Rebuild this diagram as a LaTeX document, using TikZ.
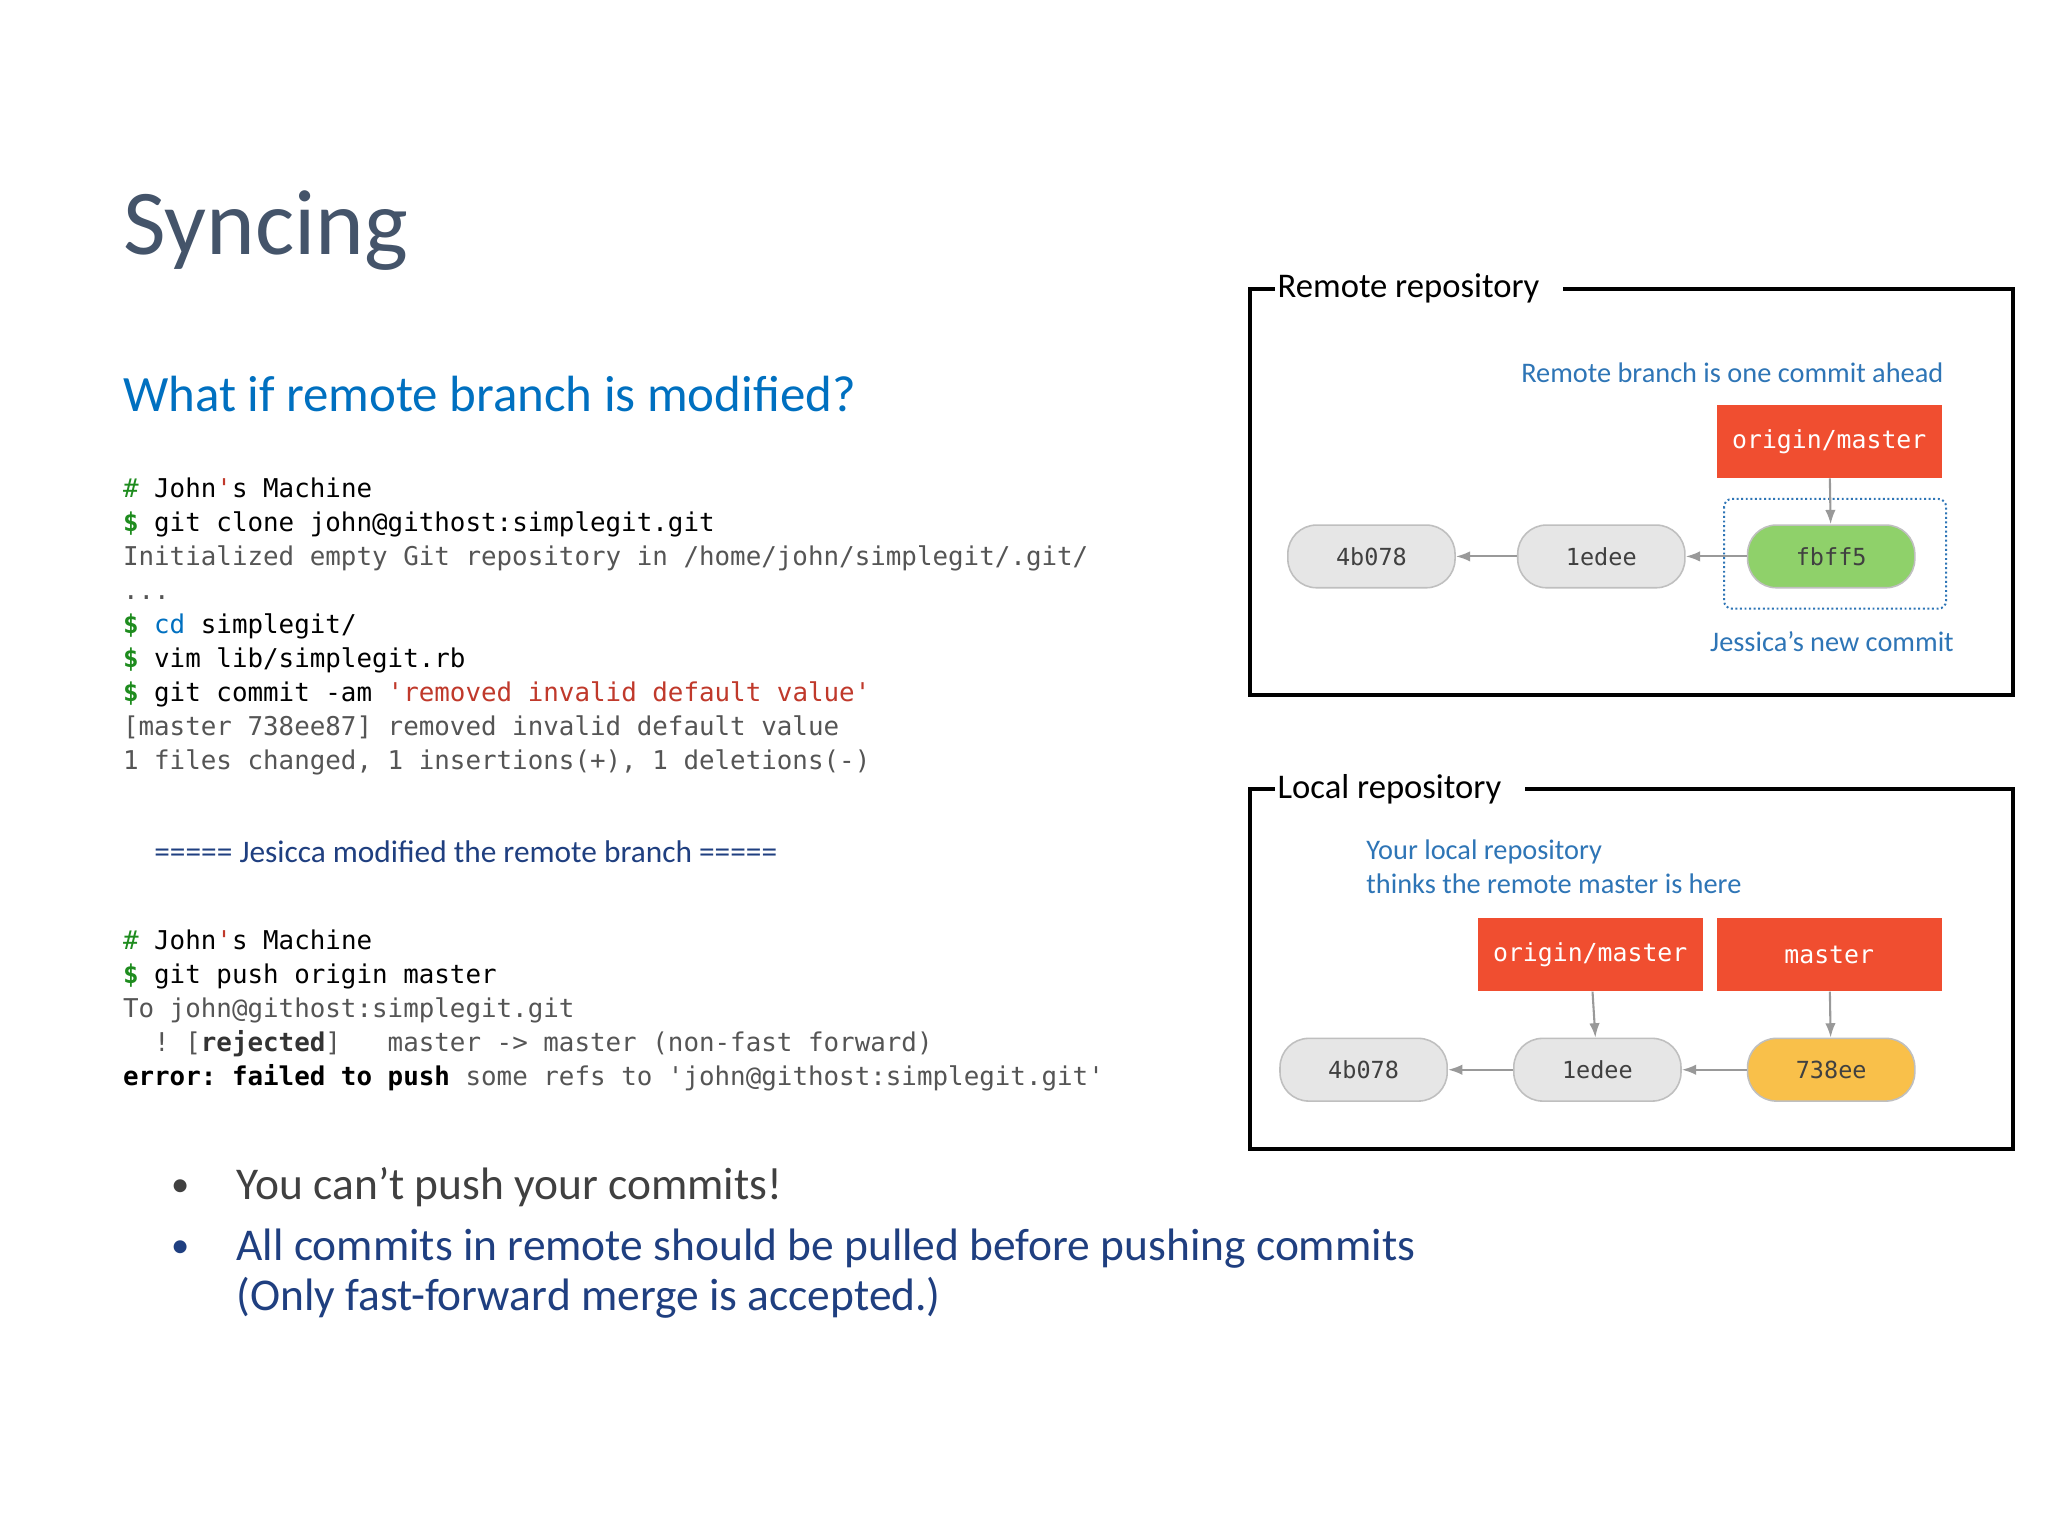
\documentclass[tikz,border=0pt]{standalone}
\usepackage{fontspec}
\setmainfont{Carlito}
\setmonofont{DejaVu Sans Mono}
\usetikzlibrary{arrows.meta}
\definecolor{titlec}{HTML}{44546A}
\definecolor{subc}{HTML}{0070C0}
\definecolor{codeg}{HTML}{1E8C1E}
\definecolor{codered}{HTML}{C0392B}
\definecolor{outc}{HTML}{555555}
\definecolor{lblue}{HTML}{2E75B6}
\definecolor{dblue}{HTML}{1F3F80}
\definecolor{gitred}{HTML}{F04E30}
\definecolor{pillgray}{HTML}{E6E6E6}
\definecolor{pillgreen}{HTML}{8FD16A}
\definecolor{pillorange}{HTML}{F9C04A}
\newcommand{\cfont}{\ttfamily\fontsize{19.8}{24}\selectfont}
\newcommand{\cG}[1]{\textcolor{codeg}{#1}}
\newcommand{\cR}[1]{\textcolor{codered}{#1}}
\newcommand{\cO}[1]{\textcolor{outc}{#1}}
\tikzset{
 codeline/.style={anchor=base west,inner sep=0,font=\cfont},
 pill/.style={draw=gray!50,line width=1.2pt,fill=pillgray,rounded corners=22pt,minimum width=128,minimum height=48,font=\ttfamily\fontsize{18}{20}\selectfont,text=black!75},
 refbox/.style={fill=gitred,minimum width=172,minimum height=56,inner sep=0,font=\ttfamily\fontsize{19}{20}\selectfont,text=white},
 repo/.style={draw=black,line width=3pt},
 repolabel/.style={fill=white,anchor=west,inner ysep=2pt,inner xsep=0pt,font=\fontsize{26.5}{30}\selectfont},
 note/.style={inner sep=0,font=\fontsize{21.7}{26}\selectfont,text=lblue},
 arr/.style={-{Latex[length=11pt,width=8pt]},draw=gray!80,line width=1.6pt},
}
\begin{document}
\begin{tikzpicture}[x=1pt,y=-1pt]
\useasboundingbox[fill=white] (0,0) rectangle (1568,1176);
\node[anchor=base west,inner sep=0,text=titlec,font=\fontsize{71}{76}\selectfont] (title) at (94,195) {Syncing};
\node[anchor=base west,inner sep=0,text=subc,font=\fontsize{39}{44}\selectfont] (sub) at (94,315) {What if remote branch is modified?};
\node[codeline] (c1) at (94,381) {\cG{\#} John\cR{'}s Machine};
\node[codeline] (c2) at (94,407) {\cG{\textbf{\$}} git clone john@githost:simplegit.git};
\node[codeline] (c3) at (94,433) {\cO{Initialized empty Git repository in /home/john/simplegit/.git/}};
\node[codeline] (c4) at (94,459) {\cO{...}};
\node[codeline] (c5) at (94,485) {\cG{\textbf{\$}} \textcolor{subc}{cd} simplegit/};
\node[codeline] (c6) at (94,511) {\cG{\textbf{\$}} vim lib/simplegit.rb};
\node[codeline] (c7) at (94,537) {\cG{\textbf{\$}} git commit -am \cR{'removed invalid default value'}};
\node[codeline] (c8) at (94,563) {\cO{[master 738ee87] removed invalid default value}};
\node[codeline] (c9) at (94,589) {\cO{1 files changed, 1 insertions(+), 1 deletions(-)}};
\node[anchor=base west,inner sep=0,text=dblue,font=\fontsize{24}{28}\selectfont] (sep) at (118,660) {===== Jesicca modified the remote branch =====};
\node[codeline] (d1) at (94,727) {\cG{\#} John\cR{'}s Machine};
\node[codeline] (d2) at (94,753) {\cG{\textbf{\$}} git push origin master};
\node[codeline] (d3) at (94,779) {\cO{To john@githost:simplegit.git}};
\node[codeline] (d4) at (94,805) {\cO{\ \ ! [\textbf{\textcolor{black!80}{rejected}}]\ \ \ master -> master (non-fast forward)}};
\node[codeline] (d5) at (94,831) {\textbf{error:} \textbf{failed to push} \cO{some refs to 'john@githost:simplegit.git'}};
\node[anchor=base west,inner sep=0,text=black!75,font=\fontsize{34.8}{40}\selectfont] (b1) at (181,918) {You can’t push your commits!};
\node[anchor=base,inner sep=0,text=black!75,font=\fontsize{28}{30}\selectfont] (bd1) at (138,916) {•};
\node[anchor=base west,inner sep=0,text=dblue,font=\fontsize{34.8}{40}\selectfont] (b2) at (181,965) {All commits in remote should be pulled before pushing commits};
\node[anchor=base west,inner sep=0,text=dblue,font=\fontsize{34.8}{40}\selectfont] (b3) at (181,1003) {(Only fast-forward merge is accepted.)};
\node[anchor=base,inner sep=0,text=dblue,font=\fontsize{28}{30}\selectfont] (bd2) at (138,963) {•};
% remote
\draw[repo] (957,221) rectangle (1541,532);
\node[repolabel] (rl) at (976,221) {\kern2pt Remote repository\kern18pt};
\node[note,anchor=base east] (rn) at (1488,293) {Remote branch is one commit ahead};
\node[refbox] (rom) at (1400.5,338) {origin/master};
\draw[lblue,dotted,line width=1.5pt,rounded corners=6pt] (1320,382) rectangle (1490,466);
\node[pill,fill=pillgreen] (f) at (1402,426) {fbff5};
\node[pill] (r1) at (1226,426) {1edee};
\node[pill] (r0) at (1050,426) {4b078};
\draw[arr] (rom) -- (f);
\draw[arr] (f) -- (r1);
\draw[arr] (r1) -- (r0);
\node[note,anchor=base east] (jn) at (1496,499) {Jessica’s new commit};
% local
\draw[repo] (957,604) rectangle (1541,880);
\node[repolabel] (ll) at (976,604) {\kern2pt Local repository\kern18pt};
\node[note,anchor=base west] (ln1) at (1046,658) {Your local repository};
\node[note,anchor=base west] (ln2) at (1046,684) {thinks the remote master is here};
\node[refbox] (lom) at (1217.5,731) {origin/master};
\node[refbox] (lm) at (1400.5,731) {master};
\node[pill] (l0) at (1044,819) {4b078};
\node[pill] (l1) at (1223,819) {1edee};
\node[pill,fill=pillorange] (l2) at (1402,819) {738ee};
\draw[arr] (lom) -- (l1);
\draw[arr] (lm) -- (l2);
\draw[arr] (l2) -- (l1);
\draw[arr] (l1) -- (l0);
\end{tikzpicture}
\end{document}
